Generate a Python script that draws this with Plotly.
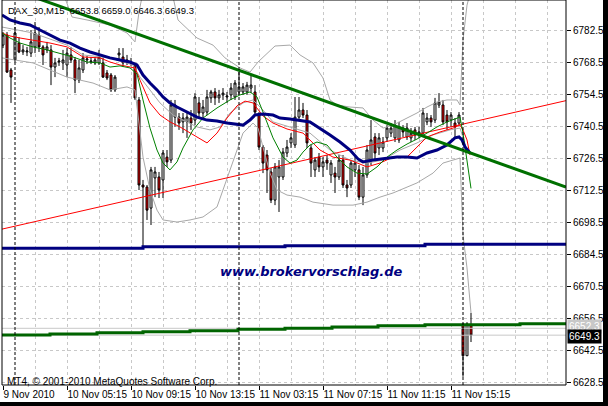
import plotly.graph_objects as go

# ---------------- data ----------------
symbol = "DAX_30,M15"
bars = list(range(118))

opens = [
    6776.2, 6780.6, 6765.3, 6769.7, 6777.1, 6773.2, 6773.2, 6772.7, 6775.4, 6780.6,
    6775.4, 6774.1, 6774.1, 6766.6, 6768.8, 6768.4, 6767.5, 6771.9, 6769.7, 6760.9,
    6765.3, 6769.7, 6768.8, 6768.4, 6768.4, 6768.4, 6764.0, 6763.1, 6756.6, 6771.9,
    6771.0, 6768.8, 6768.8, 6767.1, 6752.2, 6715.0, 6714.1, 6704.9, 6718.1, 6718.5,
    6717.2, 6727.2, 6725.9, 6744.7, 6744.7, 6742.6, 6742.6, 6744.3, 6743.4, 6750.9,
    6746.5, 6746.9, 6753.1, 6755.7, 6753.1, 6754.4, 6753.5, 6754.4, 6753.5, 6755.7,
    6755.7, 6755.7, 6757.4, 6755.7, 6745.6, 6731.6, 6728.1, 6720.7, 6708.4, 6718.5,
    6718.5, 6729.0, 6733.4, 6732.5, 6744.7, 6747.8, 6745.6, 6731.2, 6721.6, 6727.2,
    6722.9, 6725.9, 6719.4, 6720.2, 6718.5, 6725.9, 6715.0, 6715.0, 6721.6, 6721.6,
    6709.7, 6719.4, 6725.9, 6736.0, 6731.2, 6731.2, 6735.6, 6737.7, 6735.6, 6734.7,
    6739.9, 6736.0, 6735.6, 6739.1, 6736.9, 6737.7, 6742.6, 6744.3, 6743.4, 6750.0,
    6750.0, 6745.6, 6743.4, 6742.1, 6742.1, 6654.2, 6640.3, 6653.8]
highs = [
    6781.9, 6781.9, 6766.2, 6784.1, 6779.7, 6776.2, 6775.4, 6782.8, 6786.3, 6784.1,
    6776.2, 6777.6, 6776.2, 6770.6, 6770.6, 6774.1, 6774.9, 6775.4, 6771.0, 6769.7,
    6772.7, 6771.4, 6771.0, 6771.0, 6774.1, 6770.6, 6765.3, 6764.0, 6763.1, 6774.9,
    6774.9, 6771.9, 6770.6, 6768.4, 6753.5, 6717.2, 6715.0, 6722.9, 6722.9, 6720.7,
    6730.3, 6730.3, 6752.2, 6752.2, 6746.5, 6746.5, 6746.9, 6747.8, 6755.2, 6753.5,
    6752.2, 6756.6, 6756.6, 6757.4, 6756.6, 6757.4, 6755.7, 6759.6, 6760.9, 6764.4,
    6759.6, 6760.1, 6763.1, 6758.7, 6746.9, 6732.5, 6730.3, 6722.4, 6724.6, 6725.9,
    6731.2, 6734.7, 6737.7, 6753.5, 6753.5, 6750.9, 6747.8, 6732.5, 6727.2, 6729.0,
    6727.2, 6728.1, 6725.9, 6722.9, 6728.1, 6728.1, 6717.2, 6725.9, 6727.2, 6723.7,
    6722.9, 6732.5, 6743.4, 6737.7, 6737.7, 6736.0, 6741.2, 6742.1, 6743.4, 6742.6,
    6741.2, 6742.1, 6739.9, 6740.4, 6740.4, 6748.7, 6746.5, 6745.6, 6753.1, 6755.2,
    6752.2, 6747.8, 6746.9, 6744.3, 6746.9, 6654.2, 6655.0, 6659.0]
lows = [
    6774.9, 6764.0, 6750.9, 6768.8, 6772.7, 6771.9, 6771.4, 6771.0, 6772.7, 6773.2,
    6767.5, 6772.7, 6758.7, 6762.2, 6767.1, 6765.3, 6762.2, 6768.4, 6755.2, 6759.6,
    6764.0, 6767.9, 6767.9, 6767.5, 6767.5, 6761.8, 6760.9, 6755.7, 6755.7, 6769.7,
    6766.6, 6767.5, 6767.1, 6752.2, 6712.8, 6687.4, 6699.7, 6697.5, 6709.7, 6709.3,
    6709.3, 6722.9, 6724.6, 6740.4, 6739.1, 6737.7, 6735.6, 6739.1, 6741.2, 6744.3,
    6744.3, 6745.6, 6750.9, 6750.0, 6750.9, 6752.2, 6750.9, 6752.2, 6752.2, 6754.4,
    6754.4, 6754.4, 6755.2, 6745.6, 6730.3, 6720.2, 6711.5, 6707.1, 6706.2, 6703.2,
    6717.2, 6727.2, 6731.2, 6731.2, 6743.4, 6744.3, 6731.2, 6718.5, 6718.5, 6720.7,
    6718.5, 6721.6, 6715.9, 6711.5, 6717.2, 6713.7, 6709.7, 6713.7, 6718.5, 6708.4,
    6706.2, 6718.1, 6723.7, 6725.9, 6728.1, 6729.4, 6733.8, 6736.0, 6733.8, 6733.4,
    6736.0, 6734.7, 6733.8, 6734.7, 6735.6, 6736.9, 6741.2, 6740.4, 6742.1, 6748.7,
    6741.2, 6739.1, 6740.4, 6736.0, 6741.2, 6631.1, 6640.2, 6646.3]
closes = [
    6780.6, 6764.4, 6762.2, 6781.5, 6773.2, 6774.1, 6773.6, 6777.6, 6781.5, 6775.4,
    6771.9, 6775.4, 6766.6, 6768.4, 6769.2, 6769.7, 6772.7, 6769.7, 6760.9, 6766.2,
    6770.6, 6770.1, 6769.2, 6769.7, 6771.0, 6762.2, 6761.8, 6756.6, 6762.2, 6772.7,
    6768.4, 6769.7, 6768.4, 6753.1, 6715.0, 6714.1, 6704.0, 6721.6, 6720.7, 6712.8,
    6729.0, 6725.1, 6750.0, 6750.0, 6742.1, 6744.3, 6744.7, 6742.1, 6753.5, 6746.5,
    6749.1, 6753.5, 6755.7, 6753.1, 6754.4, 6755.2, 6753.9, 6757.4, 6759.6, 6757.9,
    6757.9, 6758.7, 6758.7, 6746.9, 6731.6, 6724.6, 6721.6, 6708.4, 6722.9, 6722.9,
    6729.4, 6731.6, 6735.6, 6744.7, 6747.8, 6745.6, 6733.4, 6724.6, 6725.9, 6722.9,
    6725.1, 6724.6, 6724.6, 6718.5, 6725.9, 6715.0, 6713.7, 6724.6, 6724.6, 6709.7,
    6719.4, 6730.3, 6734.7, 6729.0, 6735.6, 6733.8, 6739.9, 6739.9, 6741.2, 6740.4,
    6738.2, 6739.9, 6737.7, 6736.9, 6738.2, 6746.5, 6744.3, 6742.6, 6750.9, 6751.3,
    6742.6, 6742.6, 6745.6, 6740.4, 6745.6, 6640.3, 6654.2, 6649.3]

# thick navy moving average (bar position, price)
ma_blue_x = [-0.25, 1.75, 4.25, 6.75, 9.25, 11.75, 14.25, 16.75, 19.25, 21.75, 24.25, 26.75,
             29.25, 31.75, 33.5, 35, 36.75, 38.5, 40, 41.75, 43.5, 46, 48.5, 51, 53.5, 56,
             60, 61.75, 63, 65, 67.5, 69.25, 71.75, 76.75, 79.25, 81.75, 84.25, 86.75, 88.75,
             90, 92.5, 96, 98.5, 101, 103.5, 106, 108.5, 111, 113, 114, 114.75, 115.5, 116.75]
ma_blue_y = [6789.4, 6787.2, 6785.9, 6785.0, 6782.8, 6780.6, 6778.4, 6777.1, 6774.9, 6773.2, 6771.9, 6770.6,
             6769.7, 6768.8, 6767.5, 6763.1, 6759.6, 6756.6, 6753.5, 6750.9, 6749.1, 6746.9, 6744.7, 6743.4, 6743.0, 6742.1,
             6741.2, 6743.4, 6745.6, 6746.0, 6745.6, 6744.3, 6743.9, 6742.6, 6739.9, 6736.9, 6733.8, 6730.3, 6726.4,
             6725.1, 6725.9, 6726.8, 6727.2, 6727.2, 6726.8, 6729.0, 6730.3, 6732.5, 6735.6, 6736.0, 6734.7, 6731.6, 6729.0]

# thin red moving average
ma_red_x = [-0.25, 1.75, 4.25, 7.5, 11.75, 16, 20, 24.25, 26.75, 29.25, 31.75, 33, 34.25, 36.75,
            39.25, 41.75, 44.25, 46.75, 49.25, 51, 53.5, 56, 58.5, 60.5, 62.5, 65, 67.5, 71, 75,
            76.75, 79.25, 82.5, 86.75, 91, 94.25, 97.5, 101, 103.5, 106, 109.25, 112.5, 114.25,
            115, 116, 116.75]
ma_red_y = [6781.5, 6780.2, 6779.3, 6778.4, 6777.1, 6775.4, 6771.0, 6770.6, 6768.8, 6767.5, 6766.6, 6766.2, 6760.9, 6750.9,
            6745.6, 6742.6, 6740.4, 6737.7, 6735.1, 6733.4, 6737.7, 6744.3, 6749.6, 6751.7, 6750.9, 6745.2, 6742.1, 6739.5, 6737.7,
            6734.7, 6730.3, 6727.2, 6725.9, 6722.9, 6724.6, 6727.2, 6727.2, 6731.6, 6736.0, 6738.2, 6739.9, 6741.2,
            6739.1, 6734.7, 6728.1]

# thin green moving average
ma_green_x = [-0.25, 1.75, 4.25, 7.5, 11, 14.25, 17.5, 21, 24.25, 26.75, 29.25, 31.75, 33.5, 35, 36.75,
              38.5, 40, 41.75, 43.5, 45, 47.5, 50, 53.5, 56.75, 59.25, 61.75, 63.5, 65, 67.5, 70,
              71.75, 73.5, 75, 76.75, 78.5, 81, 83.5, 86, 88.5, 91, 93.5, 96, 98.5, 101, 103.5,
              106, 108.5, 111, 113.5, 114.25, 115, 116, 117]
ma_green_y = [6781.5, 6779.3, 6777.1, 6775.4, 6774.1, 6772.7, 6771.0, 6768.8, 6768.4, 6766.6, 6767.1, 6766.2, 6763.6, 6752.2, 6739.9,
              6730.3, 6724.6, 6721.6, 6725.1, 6731.2, 6739.1, 6744.3, 6748.7, 6752.2, 6754.4, 6755.7, 6753.5, 6746.9, 6735.6, 6727.2,
              6724.6, 6725.9, 6729.4, 6732.5, 6733.8, 6732.5, 6727.2, 6722.9, 6720.2, 6719.8, 6722.9, 6727.2, 6730.3, 6732.9, 6735.1,
              6737.7, 6740.4, 6742.6, 6744.3, 6744.7, 6737.7, 6725.9, 6713.5]

# Bollinger bands (gray)
bb_up_x = [15.5, 17.25, 21, 26.75, 31, 33, 34, 35, 42.25, 43.75, 48.5, 52.5, 55.5, 59.25, 61.75, 63.75,
           68, 71.75, 74.25, 77.5, 80, 81.75, 83.5, 86.75, 90, 92.5, 95, 97.5, 100, 103.5, 106, 108.5,
           111, 113.5, 114.25, 115, 116, 117]
bb_up_y = [6796.8, 6788.5, 6787.2, 6785.0, 6781.5, 6777.6, 6790.7, 6799.4, 6799.4, 6787.2, 6779.3, 6776.2, 6770.6, 6766.2, 6764.4, 6768.8,
           6775.8, 6776.2, 6771.9, 6768.4, 6761.8, 6752.2, 6750.0, 6749.1, 6748.7, 6743.4, 6739.9, 6741.2, 6743.4, 6746.5, 6749.1, 6751.3,
           6752.2, 6752.2, 6750.0, 6778.4, 6793.7, 6800.3]
bb_mid_x = [-0.25, 7.5, 16, 20, 26.75, 32.5, 34.25, 36.75, 39.25, 42.5, 46, 48.5, 51.75, 54.25, 56.75, 60,
            62.5, 65, 67.5, 71.75, 76.75, 81.75, 86.75, 91, 95, 99.25, 103.5, 107.5, 111.75, 114.25, 115.25, 116.25]
bb_mid_y = [6784.1, 6781.5, 6776.2, 6771.9, 6770.6, 6767.5, 6762.2, 6756.6, 6750.9, 6745.6, 6742.6, 6740.4, 6739.1, 6740.4, 6746.5, 6750.9,
            6752.2, 6747.8, 6742.6, 6740.4, 6737.7, 6730.3, 6725.9, 6724.6, 6725.9, 6730.3, 6733.4, 6736.9, 6739.1, 6739.9, 6734.7, 6729.0]
bb_low_x = [-0.25, 7.5, 16, 22.5, 26.75, 31, 33, 34, 35, 36.75, 38.5, 40, 43.5, 46.75, 50, 53.5, 55, 57.5,
            60, 62.5, 63.75, 65, 66.75, 68.5, 71, 74.25, 77.5, 82.5, 87.5, 91, 94.25, 97.5, 101, 103.5,
            107.5, 110, 112.5, 114.25, 115, 116, 117]
bb_low_y = [6770.6, 6768.4, 6762.2, 6759.6, 6756.6, 6757.9, 6756.6, 6740.8, 6727.2, 6712.8, 6704.0, 6699.7, 6698.8, 6699.7, 6701.0, 6705.4, 6712.8, 6725.9,
            6737.7, 6742.1, 6739.9, 6731.6, 6720.2, 6712.8, 6710.6, 6709.7, 6707.5, 6706.2, 6706.2, 6707.5, 6709.7, 6711.5, 6714.1, 6715.9,
            6720.2, 6724.6, 6725.9, 6726.8, 6693.1, 6678.7, 6659.0]

# trend lines (two anchor points each)
trend_green_x = [-0.25, 140.75]
trend_green_y = [6802.2, 6714.1]
trend_red_x = [-0.25, 140.75]
trend_red_y = [6695.7, 6751.9]

# stepped higher-timeframe lines
step_blue_x = [-0.25, 35, 70.5, 105.5, 140.75]
step_blue_y = [6687.3, 6688.0, 6688.4, 6689.1, 6689.1]
step_green_x = [-0.25, 11.75, 23.5, 35, 46.75, 58.75, 70.5, 82.25, 93.75, 105.5, 129.25, 140.75]
step_green_y = [6649.4, 6649.8, 6650.4, 6650.8, 6651.2, 6651.9, 6652.3, 6652.9, 6653.4, 6653.9, 6654.3, 6654.3]

bid_price = 6649.3
ask_price = 6652.3

day_separators = [3, 59, 115]
time_ticks = [0, 16, 32, 48, 64, 80, 96, 112]
time_labels = ["9 Nov 2010", "10 Nov 05:15", "10 Nov 09:15", "10 Nov 13:15",
               "11 Nov 03:15", "11 Nov 07:15", "11 Nov 11:15", "11 Nov 15:15"]
minor_grid = [8, 24, 40, 56, 72, 88, 104, 120, 128, 136]
price_ticks = [6628.5, 6642.5, 6656.5, 6670.5, 6684.5, 6698.5, 6712.5, 6726.5,
               6740.5, 6754.5, 6768.5, 6782.5]
x_range = [-0.25, 140.75]
y_range = [6627.5, 6795.93]

# ---------------- figure ----------------
W, H = 608, 406
ML, MR, MT, MB = 2, 42, 0, 21
PW, PH = W - ML - MR, H - MT - MB

def px(x):
    return (x - ML) / PW

def py(y):
    return 1 - (y - MT) / PH

FONT = "Liberation Sans"
GRID = "#c8c8c8"
BAND = "#a8a8a8"

fig = go.Figure()

fig.add_trace(go.Candlestick(
    x=bars, open=opens, high=highs, low=lows, close=closes,
    increasing=dict(fillcolor="white", line=dict(color="black", width=1)),
    decreasing=dict(fillcolor="#ff0000", line=dict(color="black", width=1)),
    whiskerwidth=0, hoverinfo="skip"))

def line(x, y, color, width, shape="linear"):
    fig.add_trace(go.Scatter(x=x, y=y, mode="lines", line=dict(color=color, width=width, shape=shape),
                             hoverinfo="skip"))

line([x_range[0], x_range[1]], [ask_price, ask_price], "#c8c8c8", 1)
line([x_range[0], x_range[1]], [bid_price, bid_price], "#c8c8c8", 1)
line(bb_up_x, bb_up_y, BAND, 1)
line(bb_mid_x, bb_mid_y, BAND, 1)
line(bb_low_x, bb_low_y, BAND, 1)
line(trend_red_x, trend_red_y, "#ff0000", 1)
line(ma_red_x, ma_red_y, "#ff0000", 1)
line(ma_green_x, ma_green_y, "#008000", 1)
line(ma_blue_x, ma_blue_y, "#000080", 3)
line(trend_green_x, trend_green_y, "#007000", 3)
line(step_blue_x, step_blue_y, "#000080", 3, "hv")
line(step_green_x, step_green_y, "#006400", 3, "hv")

shapes = []
for d in day_separators:
    shapes.append(dict(type="line", xref="x", yref="paper", x0=d, x1=d, y0=0, y1=1,
                       line=dict(color="black", width=1, dash="3px,2px")))
# chart frame
shapes.append(dict(type="rect", xref="paper", yref="paper", x0=0, x1=1, y0=0, y1=1,
                   line=dict(color="black", width=1)))
# dark window border (right and bottom)
shapes.append(dict(type="rect", xref="paper", yref="paper", x0=px(603), x1=px(609), y0=py(407), y1=py(-1),
                   line=dict(width=0), fillcolor="black"))
shapes.append(dict(type="rect", xref="paper", yref="paper", x0=px(-1), x1=px(609), y0=py(407), y1=py(402),
                   line=dict(width=0), fillcolor="black"))

annotations = [
    dict(xref="paper", yref="paper", x=px(6), y=py(10), xanchor="left", yanchor="middle", showarrow=False,
         text=f"{symbol}  {opens[-1]:.1f} {highs[-1]:.1f} {lows[-1]:.1f} {closes[-1]:.1f}",
         font=dict(family=FONT, size=9.5, color="black")),
    dict(xref="paper", yref="paper", x=px(5), y=py(381), xanchor="left", yanchor="middle", showarrow=False,
         text="MT4, © 2001-2010 MetaQuotes Software Corp.", font=dict(family=FONT, size=10, color="black")),
    dict(xref="paper", yref="paper", x=px(311), y=py(271), xanchor="center", yanchor="middle", showarrow=False,
         text="<b><i>www.brokervorschlag.de</i></b>", font=dict(family="DejaVu Sans", size=13, color="#000080")),
    dict(xref="paper", yref="y", x=px(567), y=ask_price, xanchor="left", yanchor="middle", showarrow=False,
         text=f"{ask_price:.1f}", bgcolor="#c8c8c8", borderpad=1, yshift=2,
         font=dict(family=FONT, size=10, color="white")),
    dict(xref="paper", yref="y", x=px(567), y=bid_price, xanchor="left", yanchor="middle", showarrow=False,
         text=f"{bid_price:.1f}", bgcolor="black", borderpad=1, yshift=-1,
         font=dict(family=FONT, size=10, color="white")),
]

fig.update_layout(
    width=W, height=H, margin=dict(l=ML, r=MR, t=MT, b=MB, pad=0, autoexpand=False),
    paper_bgcolor="white", plot_bgcolor="white", showlegend=False, hovermode=False,
    shapes=shapes, annotations=annotations,
    xaxis=dict(range=x_range, tickvals=time_ticks, ticktext=time_labels, ticks="outside", ticklen=4,
               tickcolor="black", ticklabelposition="outside right", tickangle=0, automargin=False,
               showline=False, zeroline=False,
               showgrid=True, gridcolor=GRID, griddash="3px,3px", gridwidth=1,
               tickfont=dict(family=FONT, size=10, color="black"),
               rangeslider=dict(visible=False), fixedrange=True,
               minor=dict(tickvals=minor_grid, showgrid=True, gridcolor=GRID, griddash="3px,3px", ticks="")),
    yaxis=dict(range=y_range, side="right", tickvals=price_ticks, tickformat=".1f", ticks="outside",
               ticklen=4, tickcolor="black", showline=False, zeroline=False, automargin=False,
               showgrid=True, gridcolor=GRID, griddash="3px,3px", gridwidth=1,
               tickfont=dict(family=FONT, size=10, color="black"), fixedrange=True),
)

fig.write_html("out.html", config=dict(displayModeBar=False, staticPlot=True),
               post_script="document.body.style.margin='0';document.body.style.overflow='hidden';")
